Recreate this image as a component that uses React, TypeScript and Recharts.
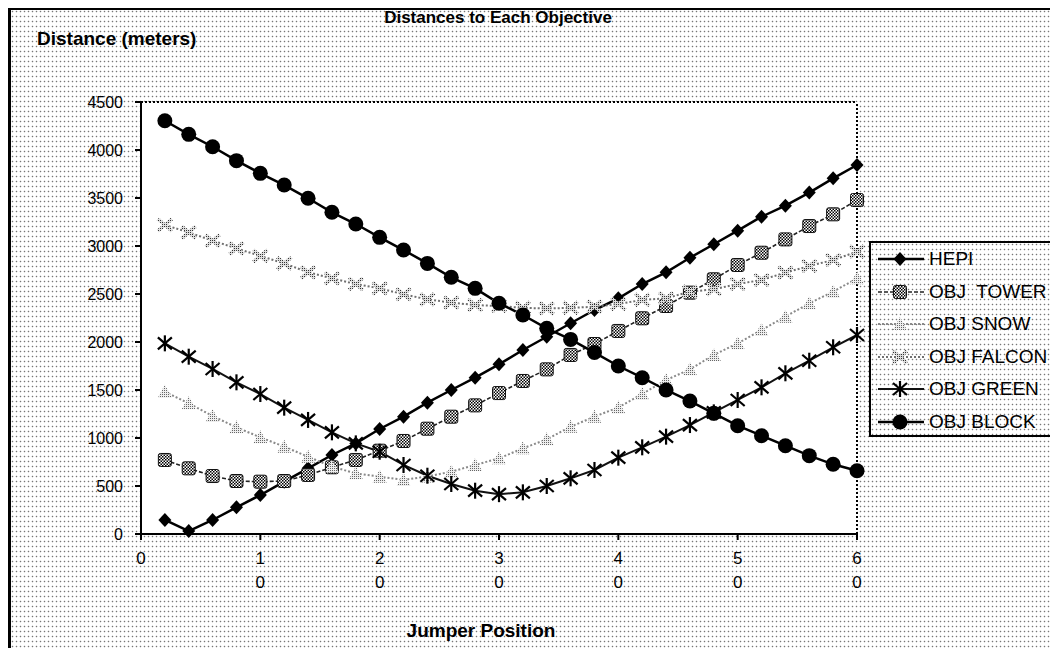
import React from 'react';
import { LineChart, Line, XAxis, YAxis, CartesianGrid, ReferenceLine } from 'recharts';

const positions = [2, 4, 6, 8, 10, 12, 14, 16, 18, 20, 22, 24, 26, 28, 30, 32, 34, 36, 38, 40, 42, 44, 46, 48, 50, 52, 54, 56, 58, 60];
const hepi = [146, 31, 146, 278, 406, 545, 684, 823, 944, 1094, 1222, 1368, 1500, 1628, 1767, 1917, 2055, 2195, 2333, 2455, 2604, 2726, 2878, 3018, 3160, 3305, 3420, 3556, 3705, 3844];
const tower = [771, 684, 604, 552, 545, 552, 615, 695, 771, 868, 969, 1097, 1222, 1340, 1468, 1594, 1715, 1865, 1979, 2115, 2247, 2375, 2514, 2653, 2802, 2930, 3069, 3208, 3330, 3479];
const snow = [1482, 1361, 1229, 1111, 1007, 910, 805, 701, 632, 597, 563, 600, 649, 719, 788, 892, 986, 1118, 1222, 1319, 1458, 1604, 1715, 1865, 1986, 2125, 2264, 2403, 2524, 2663];
const falcon = [3219, 3142, 3055, 2976, 2896, 2819, 2726, 2663, 2604, 2559, 2497, 2444, 2410, 2385, 2375, 2355, 2350, 2355, 2368, 2396, 2438, 2455, 2524, 2549, 2604, 2646, 2722, 2792, 2854, 2941];
const green = [1986, 1847, 1719, 1580, 1458, 1316, 1188, 1059, 944, 857, 719, 607, 521, 451, 415, 434, 500, 580, 667, 795, 903, 1014, 1135, 1267, 1396, 1528, 1674, 1805, 1945, 2073];
const block = [4305, 4163, 4034, 3889, 3757, 3635, 3497, 3351, 3229, 3090, 2958, 2819, 2674, 2559, 2403, 2281, 2142, 2027, 1890, 1750, 1628, 1500, 1385, 1257, 1128, 1024, 920, 816, 726, 659];

const xTicks = [0, 10, 20, 30, 40, 50, 60];
const yTicks = [0, 500, 1000, 1500, 2000, 2500, 3000, 3500, 4000, 4500];

const data = positions.map((p, i) => ({
  x: p,
  hepi: hepi[i],
  tower: tower[i],
  snow: snow[i],
  falcon: falcon[i],
  green: green[i],
  block: block[i],
}));

type Marker = 'diamond' | 'checker' | 'triangle' | 'cross' | 'asterisk' | 'circle';

const series: { key: string; name: string; marker: Marker; stroke: string; width: number; dash?: string }[] = [
  { key: 'hepi', name: 'HEPI', marker: 'diamond', stroke: '#000', width: 2.5 },
  { key: 'tower', name: 'OBJ  TOWER', marker: 'checker', stroke: '#222', width: 1.6, dash: '4 2' },
  { key: 'snow', name: 'OBJ SNOW', marker: 'triangle', stroke: '#8a8a8a', width: 2, dash: '2 2' },
  { key: 'falcon', name: 'OBJ FALCON', marker: 'cross', stroke: '#707070', width: 2, dash: '2 2' },
  { key: 'green', name: 'OBJ GREEN', marker: 'asterisk', stroke: '#111', width: 2 },
  { key: 'block', name: 'OBJ BLOCK', marker: 'circle', stroke: '#000', width: 2.5 },
];

function drawMarker(m: Marker, cx: number, cy: number) {
  switch (m) {
    case 'diamond':
      return <polygon points={`${cx},${cy - 7} ${cx + 6.5},${cy} ${cx},${cy + 7} ${cx - 6.5},${cy}`} fill="#000" />;
    case 'checker':
      return <rect x={cx - 6.5} y={cy - 6.5} width={13} height={13} rx={2} fill="url(#checkerPat)" stroke="#111" strokeWidth={1} />;
    case 'triangle':
      return <polygon points={`${cx},${cy - 7} ${cx + 7},${cy + 6} ${cx - 7},${cy + 6}`} fill="url(#lightDots)" />;
    case 'cross':
      return (
        <g stroke="url(#grayDots)" strokeWidth={3.5}>
          <line x1={cx - 7} y1={cy - 6} x2={cx + 7} y2={cy + 6} />
          <line x1={cx - 7} y1={cy + 6} x2={cx + 7} y2={cy - 6} />
        </g>
      );
    case 'asterisk':
      return (
        <g stroke="#000" strokeWidth={2.2}>
          <line x1={cx - 7} y1={cy - 6} x2={cx + 7} y2={cy + 6} />
          <line x1={cx - 7} y1={cy + 6} x2={cx + 7} y2={cy - 6} />
          <line x1={cx} y1={cy - 8} x2={cx} y2={cy + 8} />
        </g>
      );
    case 'circle':
    default:
      return <circle cx={cx} cy={cy} r={7.5} fill="#000" />;
  }
}

const makeDot = (m: Marker) => (props: any) => {
  const { cx, cy, index } = props;
  if (cx == null || cy == null) return <g key={`d-${m}-${index}`} />;
  return <g key={`d-${m}-${index}`}>{drawMarker(m, cx, cy)}</g>;
};

const XTick = (props: any) => {
  const { x, y, payload } = props;
  const chars = String(payload.value).split('');
  return (
    <g>
      {chars.map((c, i) => (
        <text key={i} x={x} y={y + 24 + i * 24} textAnchor="middle" fontSize={17} fill="#000" fontFamily="'Liberation Sans', Arial, sans-serif">
          {c}
        </text>
      ))}
    </g>
  );
};

const dotsBg = {
  backgroundImage: 'radial-gradient(circle at 1.5px 1.5px, #777 0.6px, rgba(255,255,255,0) 1.1px)',
  backgroundSize: '4px 5px',
  backgroundColor: '#fff',
};

export default function App() {
  const font = "'Liberation Sans', Arial, sans-serif";
  return (
    <div style={{ position: 'absolute', left: 0, top: 0, width: 1050, height: 648, overflow: 'hidden', background: '#fff', fontFamily: font }}>
      <div style={{ position: 'absolute', left: 8, top: 8, width: 1100, height: 700, borderLeft: '3px solid #000', borderTop: '2px solid #000', ...dotsBg }} />
      <div style={{ position: 'absolute', left: 0, top: 0 }}>
        <LineChart width={1050} height={648} data={data} margin={{ top: 102, right: 193, bottom: 0, left: 0 }}>
          <defs>
            <pattern id="checkerPat" width="3" height="3" patternUnits="userSpaceOnUse">
              <rect width="3" height="3" fill="#fff" />
              <rect width="1.5" height="1.5" fill="#000" />
              <rect x="1.5" y="1.5" width="1.5" height="1.5" fill="#000" />
            </pattern>
            <pattern id="lightDots" width="2" height="2" patternUnits="userSpaceOnUse">
              <rect width="2" height="2" fill="#eee" />
              <rect width="1" height="1" fill="#666" />
            </pattern>
            <pattern id="grayDots" width="2" height="2" patternUnits="userSpaceOnUse">
              <rect width="2" height="2" fill="#ddd" />
              <rect width="1" height="1" fill="#333" />
            </pattern>
          </defs>
          <CartesianGrid horizontal={false} vertical={false} fill="#fff" />
          <XAxis
            dataKey="x"
            type="number"
            domain={[0, 60]}
            ticks={xTicks}
            interval={0}
            height={114}
            tickSize={6}
            tickMargin={0}
            tick={<XTick />}
            axisLine={{ stroke: '#000', strokeWidth: 2 }}
            tickLine={{ stroke: '#000', strokeWidth: 2 }}
          />
          <YAxis
            type="number"
            domain={[0, 4500]}
            ticks={yTicks}
            interval={0}
            width={141}
            tickSize={6}
            tickMargin={12}
            tick={{ fontSize: 16, fill: '#000', fontFamily: font }}
            axisLine={{ stroke: '#000', strokeWidth: 2 }}
            tickLine={{ stroke: '#000', strokeWidth: 2 }}
          />
          <ReferenceLine y={4500} stroke="#000" strokeWidth={2} strokeDasharray="2 2" />
          <ReferenceLine x={60} stroke="#000" strokeWidth={2} strokeDasharray="2 2" />
          {series.map((s) => (
            <Line
              key={s.key}
              dataKey={s.key}
              name={s.name}
              type="linear"
              stroke={s.stroke}
              strokeWidth={s.width}
              strokeDasharray={s.dash}
              dot={makeDot(s.marker)}
              activeDot={false}
              isAnimationActive={false}
            />
          ))}
        </LineChart>
      </div>
      <div style={{ position: 'absolute', left: 0, width: 996, top: 8, textAlign: 'center', fontWeight: 'bold', fontSize: 17 }}>
        Distances to Each Objective
      </div>
      <div style={{ position: 'absolute', left: 37, top: 28, fontWeight: 'bold', fontSize: 19 }}>Distance (meters)</div>
      <div style={{ position: 'absolute', left: 0, width: 962, top: 620, textAlign: 'center', fontWeight: 'bold', fontSize: 19 }}>
        Jumper Position
      </div>
      <div style={{ position: 'absolute', left: 869, top: 241, width: 220, height: 196, border: '2px solid #000', boxSizing: 'border-box', ...dotsBg }}>
        {series.map((s, i) => (
          <div key={s.key} style={{ position: 'absolute', left: 0, top: 1 + i * 32.5, height: 30, display: 'flex', alignItems: 'center' }}>
            <svg width={58} height={30} style={{ display: 'block' }}>
              <line x1={7} y1={15} x2={53} y2={15} stroke={s.stroke} strokeWidth={s.width} strokeDasharray={s.dash} />
              {drawMarker(s.marker, 29, 15)}
            </svg>
            <span style={{ fontSize: 19, whiteSpace: 'pre', marginLeft: 0 }}>{s.name}</span>
          </div>
        ))}
      </div>
    </div>
  );
}
